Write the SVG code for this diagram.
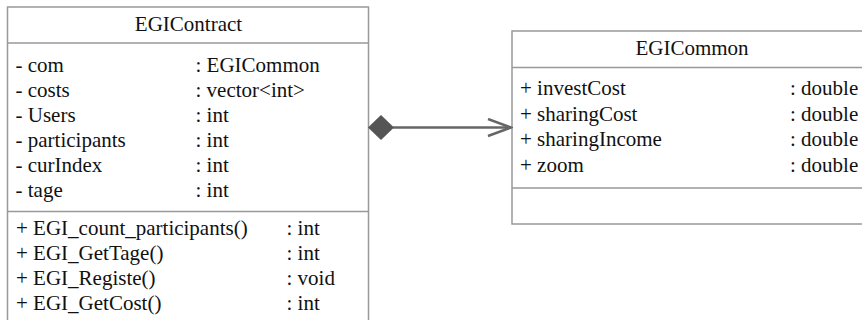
<svg xmlns="http://www.w3.org/2000/svg" width="862" height="320" viewBox="0 0 862 320">
<defs>
<style>
.box{fill:#fff;stroke:#999;stroke-width:1.5}
.sep{stroke:#999;stroke-width:1.5}
text{font-family:"Liberation Serif","Times New Roman",serif;font-size:21px;fill:#111}
.t{text-anchor:middle}
.conn{stroke:#666;stroke-width:2.5;fill:none}
</style>
<marker id="open" viewBox="0 0 26 20" refX="24" refY="10" markerWidth="26" markerHeight="20" markerUnits="userSpaceOnUse" orient="auto">
<path d="M1,1.5 L24,10 L1,18.5" fill="none" stroke="#666" stroke-width="2.5"/>
</marker>
</defs>
<rect width="862" height="320" fill="#fff"/>
<g id="EGIContract">
<rect class="box" x="7.5" y="7" width="361" height="330"/>
<line class="sep" x1="7.5" y1="43" x2="368.5" y2="43"/>
<line class="sep" x1="7.5" y1="211.5" x2="368.5" y2="211.5"/>
<text class="t" x="188.5" y="31">EGIContract</text>
<text x="15.5" y="71.5">- com</text><text x="195.5" y="71.5">: EGICommon</text>
<text x="15.5" y="96.5">- costs</text><text x="195.5" y="96.5">: vector&lt;int&gt;</text>
<text x="15.5" y="121.5">- Users</text><text x="195.5" y="121.5">: int</text>
<text x="15.5" y="146.5">- participants</text><text x="195.5" y="146.5">: int</text>
<text x="15.5" y="171.5">- curIndex</text><text x="195.5" y="171.5">: int</text>
<text x="15.5" y="196.5">- tage</text><text x="195.5" y="196.5">: int</text>
<text x="16" y="235">+ EGI_count_participants()</text><text x="286.5" y="235">: int</text>
<text x="16" y="260">+ EGI_GetTage()</text><text x="286.5" y="260">: int</text>
<text x="16" y="285">+ EGI_Registe()</text><text x="286.5" y="285">: void</text>
<text x="16" y="310">+ EGI_GetCost()</text><text x="286.5" y="310">: int</text>
</g>
<g id="EGICommon">
<rect class="box" x="512" y="31" width="360" height="193"/>
<line class="sep" x1="512" y1="67.5" x2="872" y2="67.5"/>
<line class="sep" x1="512" y1="188" x2="872" y2="188"/>
<text class="t" x="692" y="55">EGICommon</text>
<text x="520" y="95">+ investCost</text><text x="790" y="95">: double</text>
<text x="520" y="120.5">+ sharingCost</text><text x="790" y="120.5">: double</text>
<text x="520" y="146">+ sharingIncome</text><text x="790" y="146">: double</text>
<text x="520" y="171.5">+ zoom</text><text x="790" y="171.5">: double</text>
</g>
<g id="connectors">
<line class="conn" x1="393" y1="127.5" x2="511" y2="127.5" marker-end="url(#open)"/>
<polygon points="368,127.5 381,115 394,127.5 381,140" fill="#555"/>
</g>
</svg>
